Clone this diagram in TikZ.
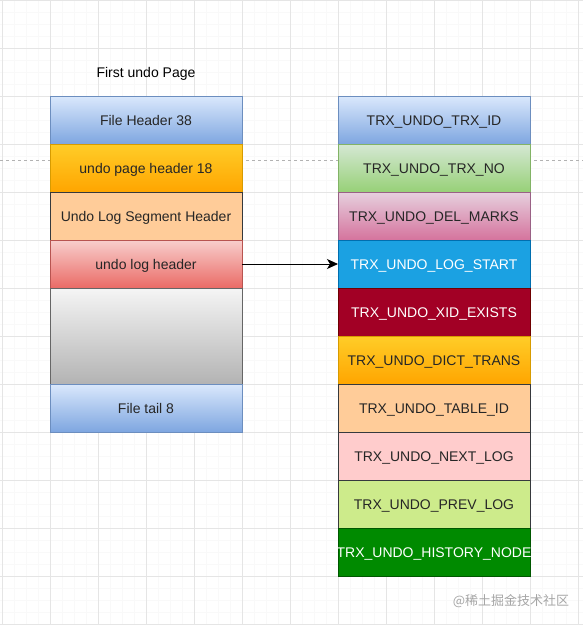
\documentclass[tikz,border=0pt]{standalone}
\usepackage{fontspec}
\setmainfont{Liberation Sans}
\newfontfamily\cjkfont{Noto Sans CJK SC}
\usepackage{xcolor}
\usetikzlibrary{positioning, arrows.meta}

\definecolor{hdrtop}{HTML}{DAE8FC}
\definecolor{hdrbot}{HTML}{7EA6E0}
\definecolor{hdrline}{HTML}{6C8EBF}
\definecolor{ortop}{HTML}{FFCD28}
\definecolor{orbot}{HTML}{FFA500}
\definecolor{orline}{HTML}{D79B00}
\definecolor{peach}{HTML}{FFCC99}
\definecolor{darkline}{HTML}{36393D}
\definecolor{redtop}{HTML}{F8CECC}
\definecolor{redbot}{HTML}{EA6B66}
\definecolor{redline}{HTML}{B85450}
\definecolor{greytop}{HTML}{F5F5F5}
\definecolor{greybot}{HTML}{B3B3B3}
\definecolor{greyline}{HTML}{666666}
\definecolor{grntop}{HTML}{D5E8D4}
\definecolor{grnbot}{HTML}{97D077}
\definecolor{grnline}{HTML}{82B366}
\definecolor{pinktop}{HTML}{E6D0DE}
\definecolor{pinkbot}{HTML}{D5739D}
\definecolor{pinkline}{HTML}{996185}
\definecolor{cyanfill}{HTML}{1BA1E2}
\definecolor{cyanline}{HTML}{006EAF}
\definecolor{crimfill}{HTML}{A20025}
\definecolor{crimline}{HTML}{6F0000}
\definecolor{rosefill}{HTML}{FFCCCC}
\definecolor{limefill}{HTML}{CDEB8B}
\definecolor{dkgrnfill}{HTML}{008A00}
\definecolor{dkgrnline}{HTML}{005700}

\begin{document}
\begin{tikzpicture}[x=1pt, y=-1pt,
    font=\fontsize{14}{17}\selectfont,
    cell/.style={draw, line width=0.9pt, minimum width=192pt, minimum height=48pt,
        inner sep=0pt, outer sep=0pt, text height=10pt, text depth=0pt, text=black!85},
    bluecell/.style={cell, top color=hdrtop, bottom color=hdrbot, draw=hdrline},
    orangecell/.style={cell, top color=ortop, bottom color=orbot, draw=orline},
    peachcell/.style={cell, fill=peach, draw=darkline},
    redcell/.style={cell, top color=redtop, bottom color=redbot, draw=redline},
    greycell/.style={cell, top color=greytop, bottom color=greybot, draw=greyline},
    greencell/.style={cell, top color=grntop, bottom color=grnbot, draw=grnline},
    pinkcell/.style={cell, top color=pinktop, bottom color=pinkbot, draw=pinkline},
    cyancell/.style={cell, fill=cyanfill, draw=cyanline, text=white},
    crimcell/.style={cell, fill=crimfill, draw=crimline, text=white},
    rosecell/.style={cell, fill=rosefill, draw=darkline},
    limecell/.style={cell, fill=limefill, draw=darkline},
    dkgrncell/.style={cell, fill=dkgrnfill, draw=dkgrnline, text=white}]

    % Canvas
    \fill[white] (0,0) rectangle (583,625);
    \useasboundingbox (0,0) rectangle (583,625);
    \foreach \x in {2,14,...,583} \draw[black!2.5, line width=0.5pt] (\x,0) -- (\x,625);
    \foreach \y in {0,12,...,625} \draw[black!2.5, line width=0.5pt] (0,\y) -- (583,\y);
    \foreach \x in {2,50,...,583} \draw[black!10, line width=0.6pt] (\x,0) -- (\x,625);
    \foreach \y in {0,48,...,625} \draw[black!10, line width=0.6pt] (0,\y) -- (583,\y);
    \draw[black!30, dashed, line width=0.5pt] (0,160) -- (583,160);

    % First undo page
    \node[text height=10pt, text depth=0pt] (title) at (146,72) {First undo Page};
    \node[bluecell] (fhdr) at (146,120) {File Header 38};
    \node[orangecell, below=0pt of fhdr] (pagehdr) {undo page header 18};
    \node[peachcell, below=0pt of pagehdr] (seghdr) {Undo Log Segment Header};
    \node[redcell, below=0pt of seghdr] (loghdr) {undo log header};
    \node[greycell, minimum height=96pt, below=0pt of loghdr] (body) {};
    \node[bluecell, below=0pt of body] (ftail) {File tail 8};

    % Undo log header fields
    \node[bluecell] (trxid) at (434,120) {TRX\_UNDO\_TRX\_ID};
    \node[greencell, below=0pt of trxid] (trxno) {TRX\_UNDO\_TRX\_NO};
    \node[pinkcell, below=0pt of trxno] (delmarks) {TRX\_UNDO\_DEL\_MARKS};
    \node[cyancell, below=0pt of delmarks] (logstart) {TRX\_UNDO\_LOG\_START};
    \node[crimcell, below=0pt of logstart] (xidexists) {TRX\_UNDO\_XID\_EXISTS};
    \node[orangecell, below=0pt of xidexists] (dicttrans) {TRX\_UNDO\_DICT\_TRANS};
    \node[peachcell, below=0pt of dicttrans] (tableid) {TRX\_UNDO\_TABLE\_ID};
    \node[rosecell, below=0pt of tableid] (nextlog) {TRX\_UNDO\_NEXT\_LOG};
    \node[limecell, below=0pt of nextlog] (prevlog) {TRX\_UNDO\_PREV\_LOG};
    \node[dkgrncell, below=0pt of prevlog] (histnode) {\makebox[192pt]{TRX\_UNDO\_HISTORY\_NODE}};

    % Link
    \draw[-{Stealth[length=11pt, width=10pt, inset=3pt]}, line width=0.9pt] (loghdr.east) -- (logstart.west);

    \node[text=black!35, font=\cjkfont\fontsize{13}{15}\selectfont] (mark) at (511,601) {@稀土掘金技术社区};
\end{tikzpicture}
\end{document}
